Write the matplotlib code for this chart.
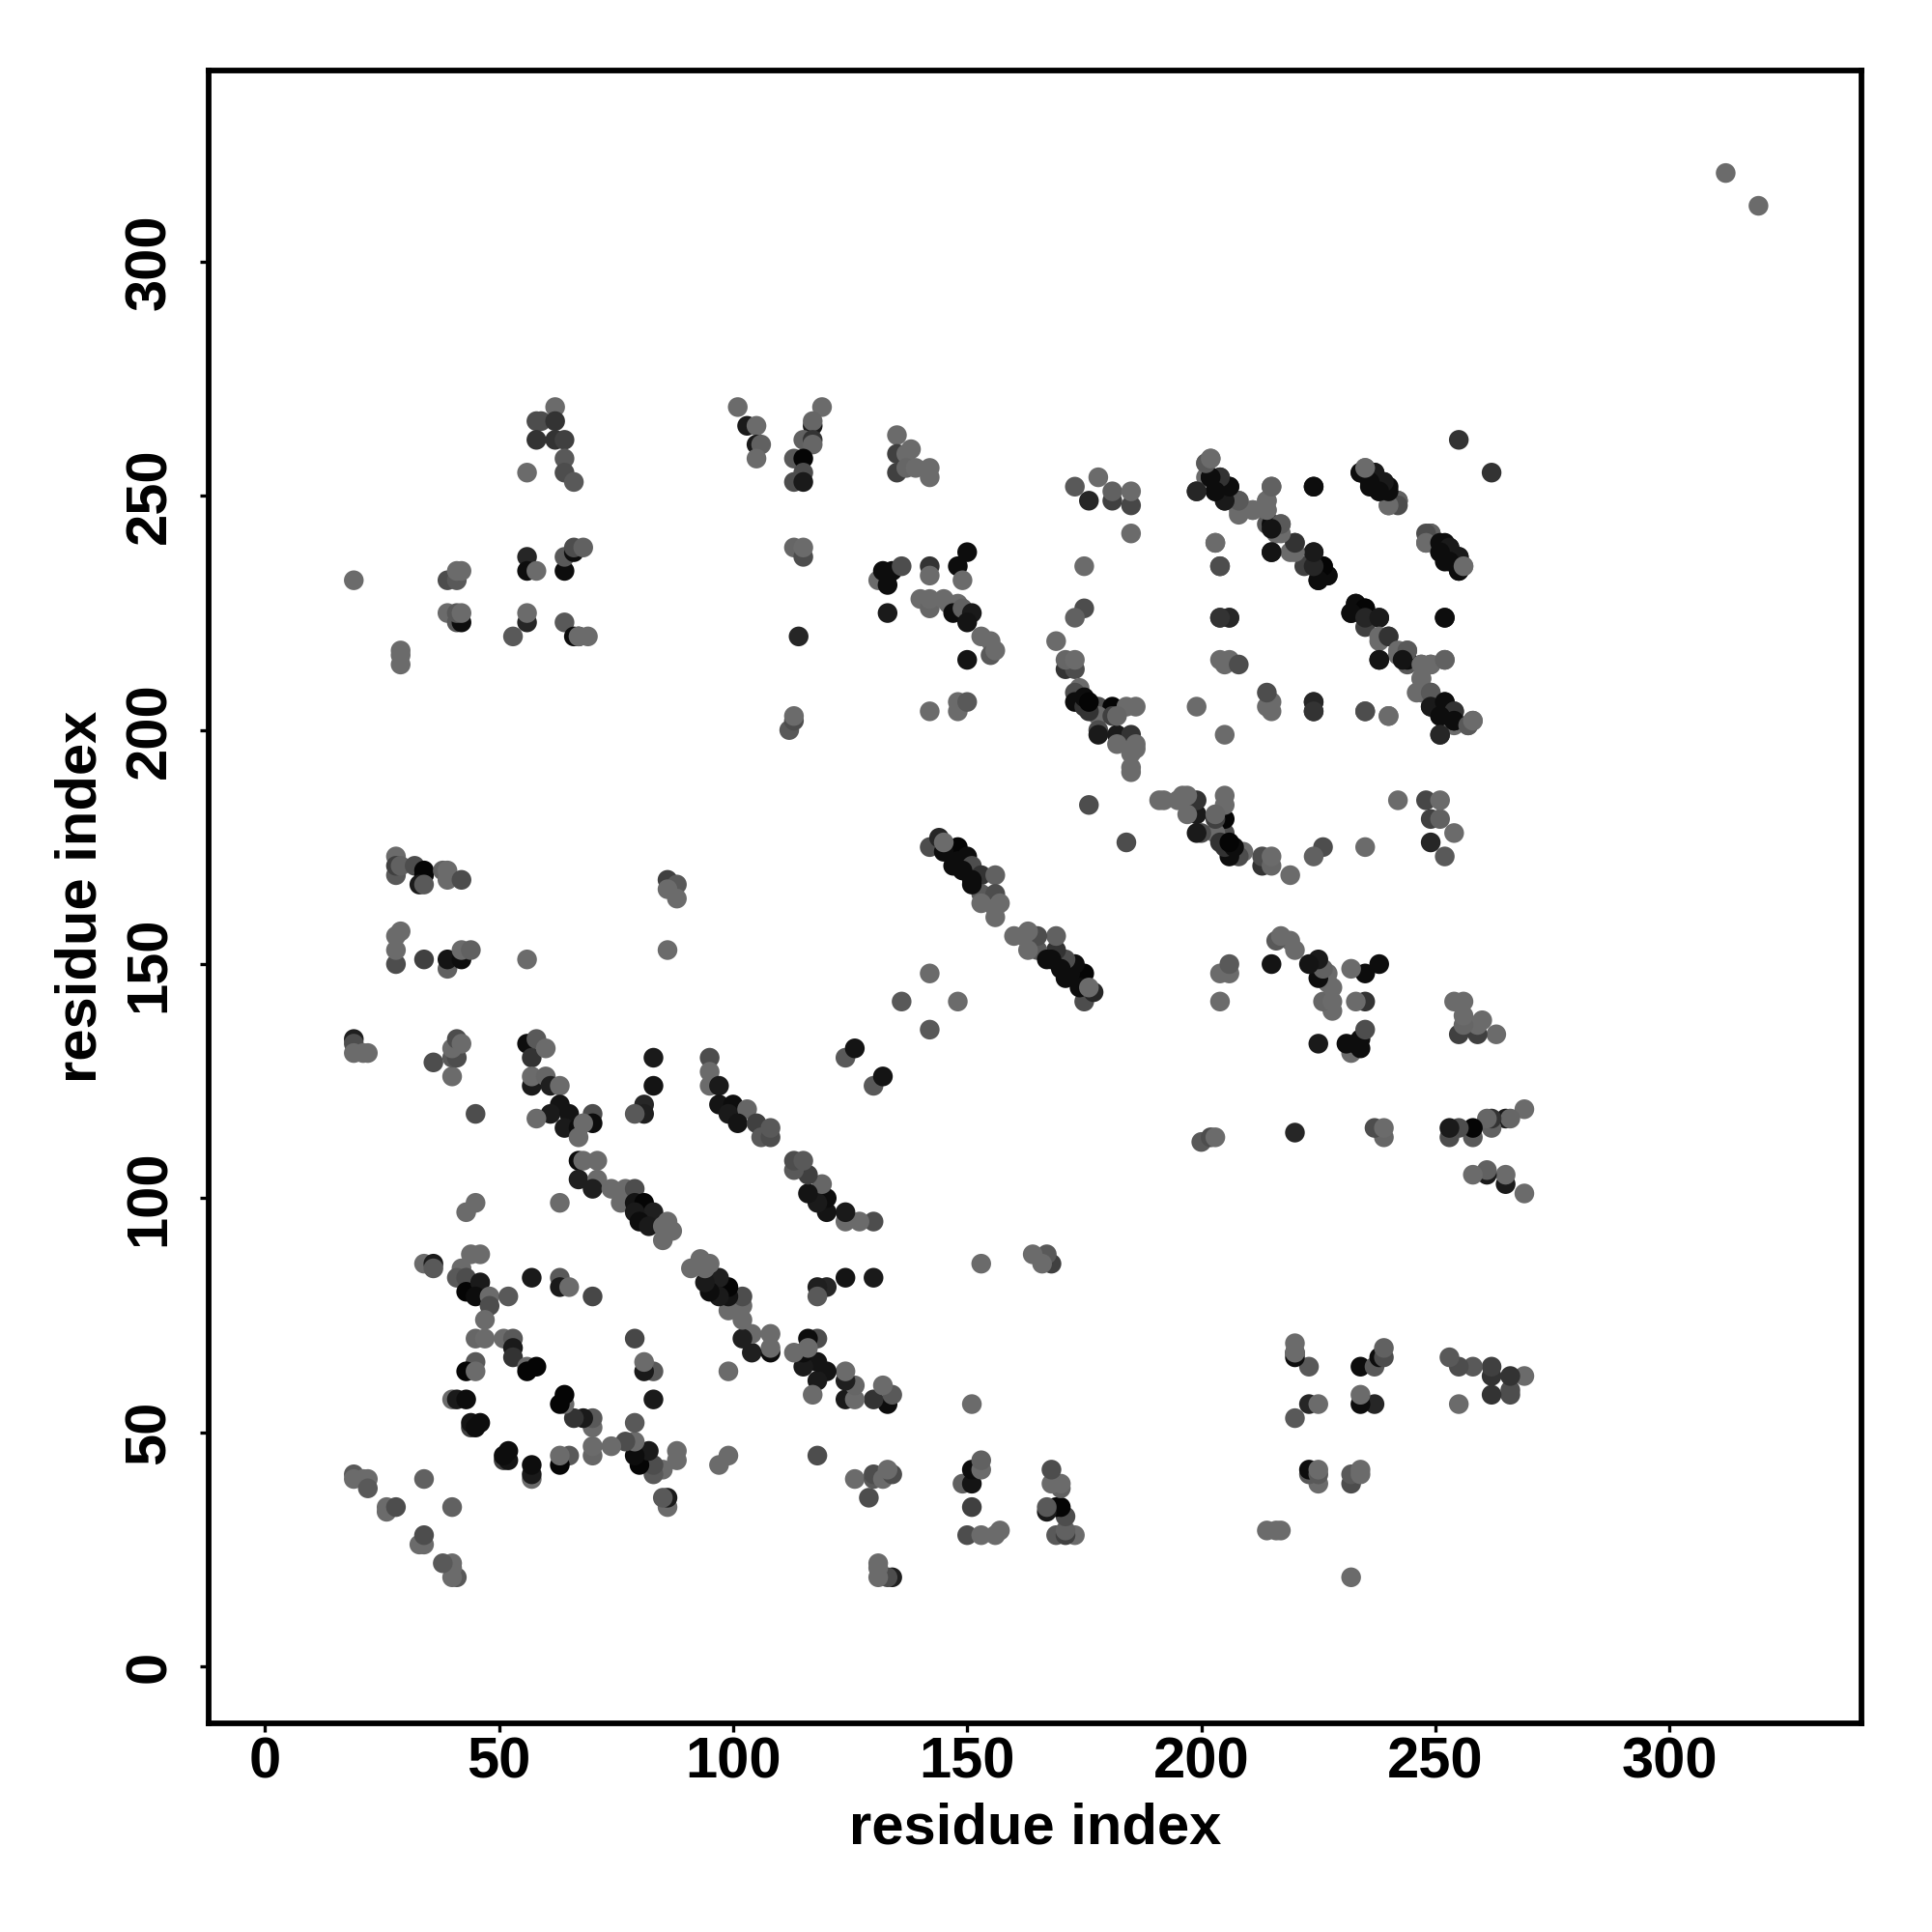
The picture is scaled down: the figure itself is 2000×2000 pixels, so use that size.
import numpy as np
import matplotlib
matplotlib.use('Agg')
from matplotlib import pyplot as plt

plt.rcParams['font.family'] = ['Liberation Sans', 'DejaVu Sans']
plt.rcParams['font.weight'] = 'bold'

# contacts i < j, the map is symmetric so the mirror is drawn from the same lists
res_i = [
    19, 19, 19, 21, 22, 36, 40, 40, 41, 40,
    41, 42, 45, 56, 57, 58, 60, 57, 57, 60,
    61, 63, 63, 61, 65, 64, 58, 67, 67, 70,
    70, 68, 83, 83, 81, 81, 79, 95, 95, 95,
    97, 97, 100, 99, 103, 101, 105, 106, 108, 108,
    67, 68, 71, 67, 71, 70, 74, 77, 79, 76,
    79, 81, 83, 79, 80, 86, 82, 85, 87, 85,
    45, 43, 63, 34, 36, 36, 44, 46, 42, 41,
    43, 43, 46, 45, 48, 48, 47, 52, 57, 63,
    63, 65, 70, 45, 47, 45, 43, 45, 51, 53,
    53, 53, 56, 56, 58, 40, 41, 43, 44, 44,
    46, 45, 19, 19, 21, 22, 22, 26, 26, 28,
    34, 124, 126, 136, 142, 62, 58, 59, 62, 58,
    62, 64, 64, 56, 64, 66, 101, 103, 105, 105,
    106, 105, 119, 117, 117, 115, 117, 117, 113, 115,
    115, 113, 115, 135, 135, 135, 138, 137, 137, 139,
    142, 142, 19, 39, 41, 42, 41, 56, 56, 58,
    64, 64, 66, 66, 68, 113, 115, 115, 150, 148,
    142, 142, 149, 131, 133, 132, 133, 134, 136, 133,
    39, 41, 42, 41, 42, 56, 56, 53, 64, 66,
    67, 67, 69, 114, 29, 29, 29, 140, 142, 142,
    145, 146, 148, 147, 149, 151, 150, 153, 155, 155,
    156, 150, 142, 148, 148, 150, 112, 113, 113, 28,
    28, 28, 29, 32, 34, 34, 33, 34, 38, 39,
    39, 42, 86, 88, 86, 88, 28, 28, 28, 29,
    34, 39, 39, 42, 42, 44, 56, 86, 142, 144,
    148, 150, 148, 151, 149, 153, 156, 151, 153, 156,
    153, 156, 157, 156, 145, 145, 147, 151, 173, 178,
    176, 181, 181, 185, 185, 185, 175, 175, 173, 169,
    171, 173, 171, 173, 174, 173, 173, 175, 175, 178,
    181, 184, 186, 178, 181, 178, 178, 182, 185, 182,
    186, 185, 186, 185, 185, 176, 199, 201, 202, 201,
    202, 204, 203, 206, 205, 208, 208, 211, 214, 214,
    215, 224, 214, 215, 217, 216, 215, 219, 220, 224,
    224, 226, 225, 227, 222, 203, 204, 204, 206, 204,
    206, 205, 208, 199, 224, 224, 235, 240, 234, 235,
    237, 236, 239, 238, 240, 240, 242, 242, 248, 248,
    251, 253, 251, 255, 253, 255, 256, 233, 235, 232,
    235, 238, 238, 240, 238, 242, 244, 243, 247, 249,
    252, 247, 246, 249, 249, 252, 254, 251, 254, 257,
    258, 251, 252, 255, 312, 176, 176, 182,
]
res_j = [
    134, 133, 131, 131, 131, 129, 126, 130, 130, 132,
    134, 133, 118, 133, 130, 134, 132, 124, 126, 126,
    124, 124, 120, 118, 118, 115, 117, 115, 113, 118,
    116, 116, 130, 124, 120, 118, 118, 130, 127, 124,
    124, 120, 120, 118, 119, 116, 116, 113, 113, 115,
    108, 108, 108, 104, 104, 102, 102, 102, 102, 99,
    99, 99, 97, 97, 95, 95, 94, 94, 93, 91,
    99, 97, 99, 86, 86, 85, 88, 88, 85, 83,
    83, 80, 82, 79, 79, 77, 74, 79, 83, 83,
    81, 81, 79, 70, 70, 65, 63, 63, 70, 70,
    68, 66, 64, 63, 64, 57, 57, 57, 51, 52,
    52, 51, 41, 40, 40, 40, 38, 33, 34, 34,
    40, 130, 132, 142, 148, 269, 266, 266, 266, 262,
    262, 262, 258, 255, 255, 253, 269, 265, 265, 261,
    261, 258, 269, 265, 266, 262, 262, 261, 258, 258,
    255, 253, 253, 263, 259, 255, 260, 259, 256, 256,
    256, 254, 232, 232, 232, 234, 234, 237, 234, 234,
    234, 237, 238, 239, 239, 239, 237, 239, 238, 235,
    235, 233, 232, 232, 233, 234, 231, 234, 235, 225,
    225, 223, 223, 225, 225, 223, 225, 220, 223, 220,
    220, 220, 220, 220, 217, 216, 214, 228, 226, 228,
    228, 227, 227, 225, 226, 225, 223, 220, 219, 216,
    217, 215, 204, 204, 206, 206, 200, 202, 203, 173,
    169, 171, 171, 171, 170, 169, 167, 167, 170, 170,
    168, 168, 168, 167, 166, 164, 150, 153, 156, 157,
    151, 149, 151, 151, 153, 153, 151, 153, 175, 177,
    175, 173, 172, 171, 170, 169, 169, 168, 165, 165,
    163, 162, 163, 160, 174, 176, 171, 167, 252, 254,
    249, 249, 251, 248, 251, 242, 235, 226, 224, 219,
    213, 213, 215, 215, 209, 208, 206, 205, 207, 205,
    205, 205, 205, 203, 203, 200, 199, 199, 199, 197,
    197, 195, 196, 192, 191, 184, 251, 257, 258, 254,
    254, 254, 251, 252, 249, 249, 247, 247, 249, 247,
    252, 252, 244, 244, 244, 242, 238, 238, 240, 238,
    235, 235, 232, 233, 235, 240, 235, 224, 224, 215,
    215, 214, 214, 205, 206, 204, 204, 203, 255, 256,
    255, 252, 253, 251, 252, 248, 249, 249, 242, 240,
    240, 239, 238, 237, 236, 234, 235, 227, 226, 225,
    224, 224, 220, 220, 215, 217, 217, 215, 214, 214,
    215, 211, 208, 208, 205, 206, 204, 203, 202, 201,
    202, 199, 224, 262, 319, 204, 206, 203,
]
# darkness of each contact, percent grey
grey = [
    12, 30, 42, 42, 42, 30, 42, 35, 30, 42,
    30, 42, 30, 5, 20, 35, 42, 10, 42, 40,
    12, 42, 8, 10, 8, 10, 42, 5, 42, 30,
    5, 42, 10, 8, 15, 12, 35, 30, 42, 42,
    10, 8, 5, 10, 40, 8, 25, 35, 30, 35,
    5, 42, 42, 12, 42, 12, 42, 42, 30, 42,
    8, 2, 12, 10, 5, 42, 10, 42, 42, 42,
    42, 42, 42, 42, 10, 35, 42, 42, 42, 35,
    30, 2, 10, 5, 42, 30, 42, 35, 10, 35,
    10, 42, 28, 40, 42, 35, 2, 42, 42, 35,
    10, 20, 42, 2, 2, 42, 10, 5, 25, 8,
    5, 5, 35, 42, 42, 42, 35, 42, 42, 30,
    38, 35, 8, 35, 42, 42, 30, 30, 20, 20,
    20, 25, 35, 42, 30, 35, 42, 10, 42, 10,
    38, 42, 42, 10, 40, 38, 20, 40, 35, 2,
    30, 30, 10, 42, 25, 25, 42, 42, 40, 42,
    42, 42, 42, 30, 35, 42, 42, 15, 5, 42,
    5, 35, 5, 30, 38, 40, 30, 42, 5, 5,
    20, 42, 42, 42, 5, 5, 5, 5, 30, 10,
    42, 35, 5, 35, 42, 15, 42, 35, 35, 5,
    10, 42, 42, 15, 42, 42, 42, 42, 40, 42,
    42, 42, 42, 5, 38, 10, 8, 42, 42, 35,
    42, 8, 42, 42, 42, 35, 35, 30, 42, 42,
    35, 25, 38, 30, 2, 2, 10, 35, 38, 42,
    42, 30, 25, 35, 42, 42, 30, 42, 42, 42,
    25, 38, 8, 5, 42, 38, 42, 42, 30, 15,
    2, 5, 5, 30, 5, 20, 38, 5, 35, 30,
    42, 42, 42, 42, 5, 42, 5, 5, 35, 42,
    15, 25, 38, 28, 42, 42, 42, 30, 38, 42,
    20, 30, 40, 42, 42, 30, 5, 20, 5, 30,
    2, 42, 42, 42, 25, 30, 10, 10, 20, 42,
    42, 42, 42, 42, 42, 30, 20, 42, 42, 42,
    5, 25, 8, 5, 20, 35, 42, 42, 42, 42,
    38, 8, 35, 5, 38, 42, 10, 42, 30, 10,
    5, 2, 5, 12, 25, 42, 35, 20, 20, 42,
    42, 42, 30, 42, 15, 20, 30, 42, 5, 42,
    5, 5, 5, 10, 5, 42, 15, 38, 30, 42,
    5, 10, 5, 10, 5, 5, 42, 5, 2, 5,
    15, 10, 42, 20, 8, 42, 35, 8, 42, 42,
    38, 42, 42, 35, 10, 5, 20, 5, 5, 35,
    42, 15, 5, 20, 42, 20, 2, 40,
]
tick_vals = [0, 50, 100, 150, 200, 250, 300]

assert len(res_i) == len(res_j) == len(grey)

xs = np.ravel(np.column_stack([res_j, res_i]))
ys = np.ravel(np.column_stack([res_i, res_j]))
cols = [str(g / 100) for g in np.repeat(grey, 2)]

fig = plt.figure(figsize=(10, 10), dpi=200)
ax = fig.add_axes([216 / 2000, 1 - 1784 / 2000, 1711 / 2000, 1711 / 2000])
ax.scatter(xs, ys, s=54, c=cols, linewidths=0)

ax.set_xlim(-12, 341)
ax.set_ylim(-12.2, 340.9)
ax.set_xticks(tick_vals)
ax.set_yticks(tick_vals)
ax.tick_params(axis='both', length=3.2, width=1.2, labelsize=21.5)
ax.tick_params(axis='x', pad=1.5)
ax.tick_params(axis='y', pad=8.7)
for t in ax.get_yticklabels():
    t.set_rotation(90)
    t.set_va('center')
for s in ax.spines.values():
    s.set_linewidth(2.1)
ax.set_xlabel('residue index', fontsize=21.5, fontweight='bold', labelpad=5)
ax.set_ylabel('residue index', fontsize=21.5, fontweight='bold', labelpad=6)

fig.savefig('out.png', dpi=200, facecolor='white')
